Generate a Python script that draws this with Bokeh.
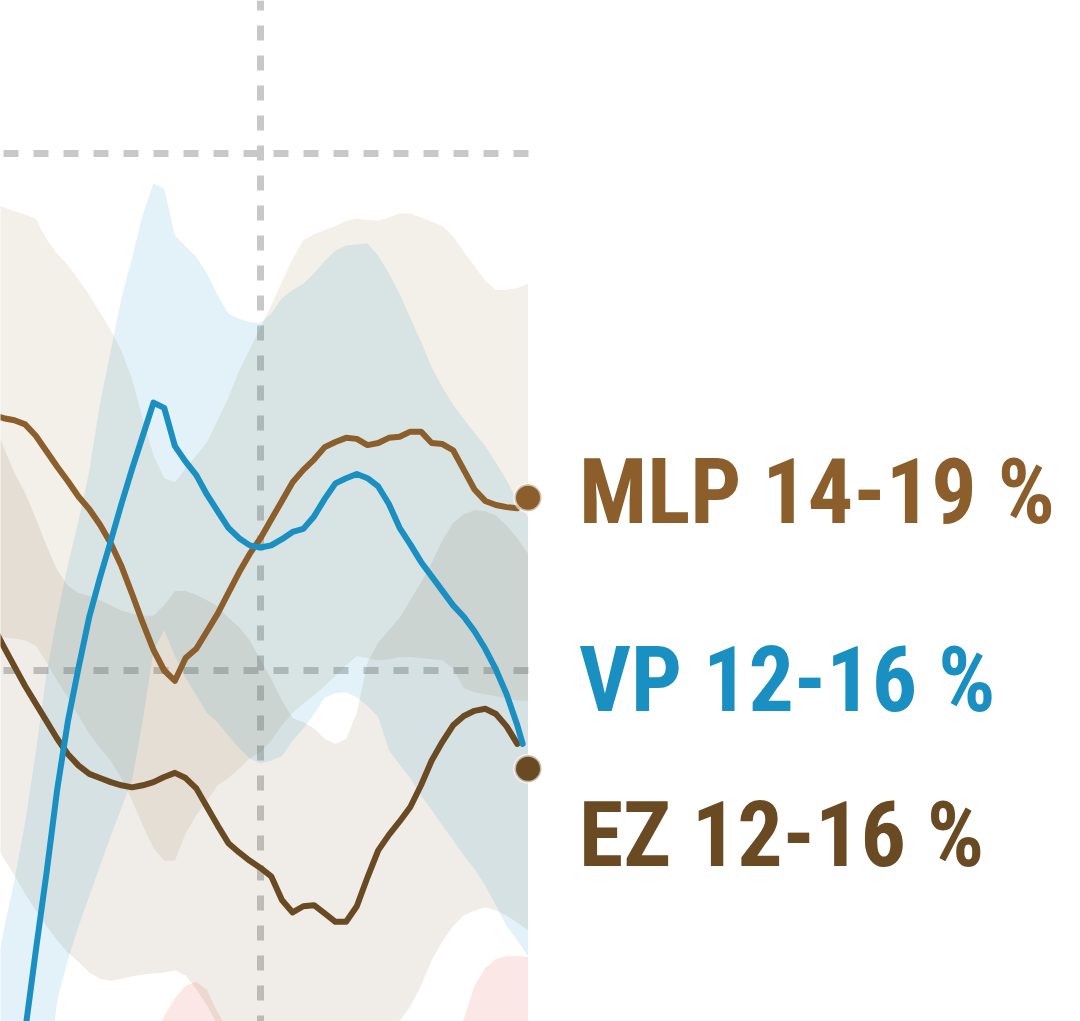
from bokeh.plotting import figure
from bokeh.models import Range1d
from bokeh.embed import file_html
from bokeh.resources import INLINE
from bokeh.core.properties import value

# days relative to the vertical reference line (day 0)
days = list(range(-75, 73, 3))          # line samples
band_days = list(range(-75, 76, 3))     # band samples

mlp = [17.47, 17.44, 17.42, 17.38, 17.27, 17.12, 16.97, 16.83, 16.68, 16.56,
       16.41, 16.23, 16.01, 15.74, 15.46, 15.20, 15.00, 14.90, 15.12, 15.21,
       15.38, 15.55, 15.75, 15.95, 16.13, 16.28, 16.46, 16.64, 16.82, 16.94,
       17.04, 17.16, 17.21, 17.25, 17.24, 17.18, 17.20, 17.25, 17.26, 17.31,
       17.31, 17.20, 17.19, 17.13, 16.94, 16.75, 16.64, 16.60, 16.58, 16.57]
vp = [9.39, 10.07, 10.84, 11.51, 12.29, 13.04, 13.85, 14.51, 15.03, 15.52,
      15.90, 16.25, 16.61, 16.95, 17.27, 17.59, 17.54, 17.17, 17.02, 16.89,
      16.70, 16.54, 16.38, 16.28, 16.21, 16.19, 16.21, 16.27, 16.34, 16.37,
      16.49, 16.66, 16.81, 16.86, 16.90, 16.86, 16.78, 16.61, 16.38, 16.22,
      16.05, 15.91, 15.77, 15.63, 15.52, 15.38, 15.21, 15.01, 14.77, 14.47]
vp_last_day, vp_last = 73.5, 14.29
ez = [15.43, 15.23, 15.04, 14.85, 14.68, 14.51, 14.34, 14.19, 14.08, 14.00,
      13.96, 13.92, 13.89, 13.87, 13.89, 13.92, 13.97, 14.01, 13.96, 13.86,
      13.68, 13.50, 13.33, 13.24, 13.16, 13.09, 13.01, 12.78, 12.66, 12.72,
      12.73, 12.65, 12.57, 12.57, 12.72, 13.00, 13.26, 13.41, 13.54, 13.68,
      13.89, 14.13, 14.31, 14.47, 14.56, 14.61, 14.63, 14.58, 14.46, 14.29]

mlp_hi = [19.52, 19.48, 19.44, 19.41, 19.37, 19.17, 19.03, 18.92, 18.78, 18.63,
          18.46, 18.29, 18.09, 17.82, 17.43, 17.08, 16.86, 16.82, 16.95, 17.08,
          17.21, 17.42, 17.64, 17.90, 18.11, 18.32, 18.53, 18.76, 18.98, 19.16,
          19.22, 19.26, 19.30, 19.35, 19.37, 19.36, 19.35, 19.38, 19.42, 19.42,
          19.38, 19.34, 19.30, 19.20, 19.05, 18.91, 18.77, 18.68, 18.68, 18.70, 18.74]
mlp_lo = [15.37, 15.32, 15.31, 15.29, 15.24, 15.08, 14.90, 14.74, 14.56, 14.39,
          14.25, 14.13, 13.96, 13.74, 13.50, 13.28, 13.16, 13.16, 13.42, 13.60,
          13.74, 13.89, 13.96, 14.05, 14.15, 14.21, 14.32, 14.47, 14.59, 14.68,
          14.76, 14.85, 14.95, 15.05, 15.14, 15.12, 15.10, 15.11, 15.13, 15.13,
          15.12, 15.11, 15.10, 15.02, 14.83, 14.79, 14.77, 14.75, 14.73, 14.71, 14.71]
vp_hi = [11.91, 12.49, 12.97, 13.53, 14.21, 14.97, 15.53, 16.02, 16.45, 16.93,
         17.58, 18.09, 18.60, 18.99, 19.41, 19.71, 19.66, 19.21, 19.10, 19.00,
         18.84, 18.63, 18.45, 18.40, 18.37, 18.36, 18.45, 18.60, 18.68, 18.74,
         18.84, 18.96, 19.06, 19.11, 19.12, 19.13, 19.01, 18.84, 18.64, 18.41,
         18.18, 17.93, 17.74, 17.57, 17.43, 17.30, 17.17, 17.01, 16.84, 16.64, 16.48]
vp_lo = [7.26, 7.94, 8.71, 9.39, 10.16, 10.94, 11.81, 12.20, 12.53, 12.82,
         13.11, 13.40, 13.67, 13.94, 14.52, 15.19, 15.39, 15.14, 14.93, 14.76,
         14.59, 14.50, 14.37, 14.25, 14.15, 14.10, 14.13, 14.17, 14.32, 14.44,
         14.58, 14.74, 14.78, 14.79, 14.74, 14.66, 14.55, 14.23, 14.09, 13.96,
         13.79, 13.65, 13.50, 13.36, 13.21, 13.08, 12.92, 12.73, 12.53, 12.39, 12.24]
ez_hi = [17.40, 17.16, 16.91, 16.72, 16.47, 16.21, 15.97, 15.82, 15.75, 15.72,
         15.68, 15.63, 15.58, 15.55, 15.53, 15.53, 15.63, 15.77, 15.77, 15.73,
         15.68, 15.62, 15.51, 15.42, 15.29, 15.10, 14.92, 14.71, 14.54, 14.50,
         14.44, 14.34, 14.29, 14.34, 14.59, 15.08, 15.27, 15.39, 15.51, 15.68,
         15.85, 16.04, 16.26, 16.43, 16.51, 16.55, 16.54, 16.50, 16.40, 16.28, 16.13]
ez_lo = [13.40, 13.18, 13.02, 12.84, 12.68, 12.53, 12.39, 12.27, 12.18, 12.08,
         12.02, 12.00, 12.02, 12.04, 12.06, 12.07, 12.08, 12.10, 12.05, 11.92,
         11.76, 11.57, 11.37, 11.28, 11.23, 11.16, 11.07, 10.84, 10.73, 10.78,
         10.79, 10.72, 10.64, 10.64, 10.78, 11.06, 11.32, 11.48, 11.61, 11.75,
         11.95, 12.20, 12.38, 12.53, 12.63, 12.68, 12.71, 12.68, 12.63, 12.56, 12.49]
sdp_hi = [10.84, 10.84, 10.84, 10.84, 10.84, 10.84, 10.84, 10.84, 10.84, 10.84,
          10.84, 10.84, 10.84, 11.03, 11.23, 11.42, 11.66, 11.83, 11.95, 11.99,
          11.91, 11.69, 11.52, 11.32, 11.13, 11.13, 11.13, 11.13, 11.13, 11.13,
          11.13, 11.13, 11.13, 11.13, 11.13, 11.13, 11.13, 11.13, 11.13, 11.13,
          11.13, 11.13, 11.23, 11.42, 11.63, 11.95, 12.12, 12.21, 12.24, 12.24, 12.23]
sdp_lo = [8.1, 8.0, 8.0, 7.9, 7.9, 7.8, 7.8, 7.8, 7.9, 7.9,
          8.0, 8.0, 8.1, 8.2, 8.3, 8.4, 8.5, 8.6, 8.6, 8.7,
          8.6, 8.5, 8.4, 8.3, 8.2, 8.1, 8.0, 8.0, 8.0, 8.1,
          8.1, 8.2, 8.2, 8.3, 8.3, 8.3, 8.4, 8.4, 8.4, 8.5,
          8.6, 8.7, 8.8, 8.9, 9.0, 9.1, 9.2, 9.3, 9.3, 9.4, 9.4]

end_day = 75
mlp_now = 16.67
ez_now = 14.05

labels = ["MLP 14-19 %", "VP 12-16 %", "EZ 12-16 %"]
label_y = [16.72, 14.90, 13.40]

C_MLP = "#8b5e2b"
C_VP = "#1a8fc2"
C_EZ = "#6a4a22"
C_SDP = "#e03c31"
C_GRID = "#c8c8c8"

X0, X1 = -72.9, 229.9
Y0, Y1 = 11.6054, 21.4797

p = figure(width=1080, height=1021, x_range=Range1d(X0, X1), y_range=Range1d(Y0, Y1),
           output_backend="svg", toolbar_location=None, min_border=0)
p.axis.visible = False
p.grid.visible = False
p.outline_line_color = None
p.background_fill_color = "white"
p.border_fill_color = "white"

# grid lines
for gy in [20, 15]:
    p.line([X0, 75.42], [gy, gy], line_color=C_GRID, line_width=7,
           line_dash="15 15", line_dash_offset=27)
p.line([0, 0], [Y1, Y0], line_color=C_GRID, line_width=7,
       line_dash="15 15", line_dash_offset=5)

# uncertainty bands
p.varea(x=band_days, y1=sdp_lo, y2=sdp_hi, fill_color=C_SDP, fill_alpha=0.12)
p.varea(x=band_days, y1=ez_lo, y2=ez_hi, fill_color=C_EZ, fill_alpha=0.10)
p.varea(x=band_days, y1=mlp_lo, y2=mlp_hi, fill_color=C_MLP, fill_alpha=0.10)
p.varea(x=band_days, y1=vp_lo, y2=vp_hi, fill_color=C_VP, fill_alpha=0.12)

# trend lines
p.line(days, ez, line_color=C_EZ, line_width=6, line_join="round", line_cap="round")
p.line(days, mlp, line_color=C_MLP, line_width=6, line_join="round", line_cap="round")
p.line(days + [vp_last_day], vp + [vp_last], line_color=C_VP, line_width=6,
       line_join="round", line_cap="round")

# end dots
p.scatter([end_day], [mlp_now], size=27, fill_color=C_MLP, line_color="white",
          line_alpha=0.6, line_width=3)
p.scatter([end_day], [ez_now], size=27, fill_color=C_EZ, line_color="white",
          line_alpha=0.6, line_width=3)

# labels
p.text(x=[end_day] * 3, y=label_y, text=labels, text_color=[C_MLP, C_VP, C_EZ],
       x_offset=51, text_font=value("Roboto Condensed"), text_font_style="bold",
       text_font_size="90px", text_baseline="middle", text_align="left")

open("out.html", "w").write(file_html(p, INLINE))
